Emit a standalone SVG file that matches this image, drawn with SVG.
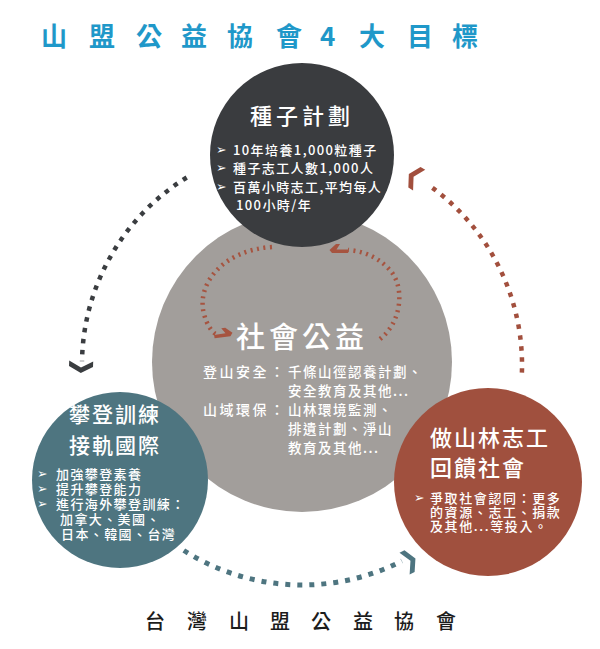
<svg xmlns="http://www.w3.org/2000/svg" width="600" height="649" viewBox="0 0 600 649">
<style>
text{font-family:"Noto Sans CJK TC","Noto Sans CJK SC",sans-serif;fill:#fff;font-weight:500}
.bul{font-family:"DejaVu Sans",sans-serif;font-size:12.5px}
.b13{font-size:13px;letter-spacing:1.4px}
.dots{fill:none}
.loop{fill:none;stroke:#a65440;stroke-width:4.5;stroke-dasharray:2 4.5}
</style>
<defs>
<polygon id="chev" points="-6,-12 -0.5,-12 6,0 -0.5,12 -6,12 0.5,0"/>
<polygon id="hook" points="-10,0 -10,3.5 6,3.5 8.5,0.5 2,-5.5 -2,-5.5 1.5,0"/>
</defs>
<rect width="600" height="649" fill="#fff"/>
<text x="41 89 136 181 227 276 320 359 407 452" y="46" style="font-size:26px;font-weight:700;fill:#1f98c9">山盟公益協會4大目標</text>

<g id="node-social">
<circle cx="302" cy="362" r="150" fill="#a29e9b"/>
<text x="302" y="348" text-anchor="middle" style="font-size:29px;letter-spacing:4px">社會公益</text>
<g style="font-size:13.5px">
<text x="203" y="377" style="font-size:14px;letter-spacing:2.5px">登山安全</text>
<text x="270" y="377" style="font-size:14px">：</text>
<text x="288" y="377" style="letter-spacing:1.5px">千條山徑認養計劃、</text>
<text x="288" y="396" style="letter-spacing:1.5px">安全教育及其他...</text>
<text x="203" y="415" style="font-size:14px;letter-spacing:2.5px">山域環保</text>
<text x="270" y="415" style="font-size:14px">：</text>
<text x="288" y="415" style="letter-spacing:1.5px">山林環境監測、</text>
<text x="288" y="434" style="letter-spacing:1.5px">排遺計劃、淨山</text>
<text x="288" y="453" style="letter-spacing:1.5px">教育及其他...</text>
</g>
</g>

<g id="connectors">
<path class="dots" d="M186.7,177.5 A220,220 0 0 0 82,361.2" stroke="#3a3d40" stroke-width="4.5" stroke-dasharray="4.5 6.5"/>
<use href="#chev" transform="translate(81,367) rotate(92)" fill="#3a3d40"/>
<path class="dots" d="M521.9,372.7 A220,220 0 0 0 428.2,184.8" stroke="#a24f3d" stroke-width="4.5" stroke-dasharray="4.5 6.5"/>
<use href="#chev" transform="translate(414,177) rotate(-149.5)" fill="#a24f3d"/>
<path class="dots" d="M183.8,550.5 A220,220 0 0 0 401.9,561" stroke="#4e7580" stroke-width="5" stroke-dasharray="5 7"/>
<use href="#chev" transform="translate(410,561) rotate(-25)" fill="#4e7580"/>
<path class="loop" d="M272,247 C222,250 196,285 204,314 C207,326 213,333 216,334"/>
<use href="#hook" transform="translate(224,333.5) rotate(-8)" fill="#a65440"/>
<path class="loop" d="M380,339 C402,322 406,285 388,268 C376,256 362,251 348,250"/>
<use href="#hook" transform="translate(338,249.5) scale(-1,1)" fill="#a65440"/>
</g>

<g id="node-seed">
<circle cx="302" cy="155" r="92" fill="#3a3c3f"/>
<text x="302" y="124" text-anchor="middle" style="font-size:22px;letter-spacing:4px">種子計劃</text>
<text class="bul" x="216" y="154">➢</text>
<text class="bul" x="216" y="172">➢</text>
<text class="bul" x="216" y="191">➢</text>
<text class="b13" x="233" y="155">10年培養1,000粒種子</text>
<text class="b13" x="233" y="173">種子志工人數1,000人</text>
<text class="b13" x="233" y="192">百萬小時志工,平均每人</text>
<text class="b13" x="236" y="210">100小時/年</text>
</g>

<g id="node-climb">
<circle cx="120" cy="480" r="88" fill="#4e7580"/>
<text x="115" y="422" text-anchor="middle" style="font-size:21px;letter-spacing:2px">攀登訓練</text>
<text x="115" y="453" text-anchor="middle" style="font-size:21px;letter-spacing:2px">接軌國際</text>
<text class="bul" x="37" y="478">➢</text>
<text class="bul" x="37" y="493">➢</text>
<text class="bul" x="37" y="508">➢</text>
<g style="font-size:13px;letter-spacing:1.4px">
<text x="56" y="479">加強攀登素養</text>
<text x="56" y="494">提升攀登能力</text>
<text x="56" y="509">進行海外攀登訓練：</text>
<text x="60" y="524">加拿大、美國、</text>
<text x="61" y="539">日本、韓國、台灣</text>
</g>
</g>

<g id="node-volunteer">
<circle cx="488" cy="482" r="94" fill="#a0503e"/>
<text x="430" y="446" style="font-size:22px;letter-spacing:2px">做山林志工</text>
<text x="430" y="476" style="font-size:22px;letter-spacing:2px">回饋社會</text>
<text class="bul" x="414" y="502">➢</text>
<g style="font-size:13px;letter-spacing:1.6px">
<text x="430" y="503">爭取社會認同：更多</text>
<text x="430" y="517">的資源、志工、捐款</text>
<text x="430" y="531">及其他...等投入。</text>
</g>
</g>

<text x="145 187 229 270 311 353 394 436" y="629" style="font-size:20px;fill:#1c1c1c">台灣山盟公益協會</text>
</svg>
